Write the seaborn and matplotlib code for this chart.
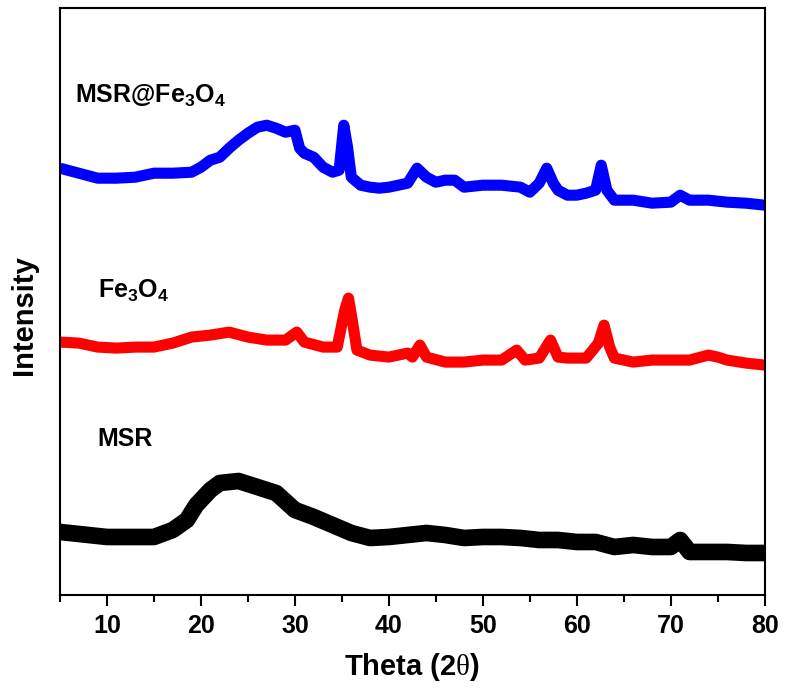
import pandas as pd
import matplotlib
matplotlib.use('Agg')
import matplotlib.pyplot as plt
from matplotlib.ticker import MultipleLocator
import seaborn as sns

sns.set_theme(style='ticks')
plt.rcParams['font.family'] = ['Liberation Sans', 'DejaVu Sans']
plt.rcParams['text.color'] = 'black'
plt.rcParams['axes.labelcolor'] = 'black'
plt.rcParams['xtick.color'] = 'black'
plt.rcParams['mathtext.fontset'] = 'custom'
plt.rcParams['mathtext.rm'] = 'Liberation Sans:bold'
plt.rcParams['mathtext.bf'] = 'Liberation Sans:bold'
plt.rcParams['mathtext.sf'] = 'Liberation Serif'
plt.rcParams['mathtext.default'] = 'bf'

# XRD traces (arbitrary intensity units, curves offset)
msr_theta = [5, 10, 15, 17, 18.5, 19.5, 21, 22, 24, 26, 28, 30, 32, 34, 36, 38, 40,
             42, 44, 46, 48, 50, 52, 54, 56, 58, 60, 62, 64, 66, 68, 70, 71, 72, 74, 76, 78, 80]
msr_int = [63, 58, 58, 65, 75, 90, 105, 112, 114, 108, 102, 85, 78, 70, 62, 57, 58,
           60, 62, 60, 57, 58, 58, 57, 55, 55, 53, 53, 48, 50, 48, 48, 55, 43, 43, 43, 42, 42]

fe3o4_theta = [5, 7, 9, 11, 13, 15, 17, 19, 21, 23, 25, 27, 29, 30.2, 31, 33, 34.5, 35.3, 35.7,
               36.1, 36.6, 38, 40, 42, 42.5, 43.3, 44, 46, 48, 50, 52, 53.6, 54.5, 56, 57.2, 58,
               59, 61, 62.3, 62.9, 63.5, 64, 66, 68, 70, 72, 74, 75, 76, 78, 80]
fe3o4_int = [253, 252, 248, 247, 248, 248, 252, 258, 260, 263, 258, 255, 255, 263, 253, 248, 248, 285, 297,
             275, 245, 240, 238, 242, 238, 250, 238, 233, 233, 235, 235, 245, 235, 237, 255, 238,
             237, 237, 252, 270, 248, 237, 233, 235, 235, 235, 240, 238, 235, 232, 230]

msr_fe3o4_theta = [5, 7, 9, 11, 13, 15, 17, 19, 20, 21, 22, 23, 24, 25, 26, 27, 28, 29, 30, 30.5,
                   31, 32, 33, 34, 34.7, 35.2, 35.6, 36, 37, 38, 39, 40, 41, 42, 43, 44, 45, 46, 47,
                   48, 50, 52, 54, 55, 56, 56.8, 57.5, 58, 59, 60, 61, 62, 62.6, 63.2, 64, 66, 68,
                   70, 71, 72, 74, 76, 78, 80]
msr_fe3o4_int = [427, 422, 417, 417, 418, 422, 422, 423, 428, 435, 438, 447, 455, 462, 468, 470, 467, 463, 465, 447,
                 442, 438, 428, 423, 425, 470, 448, 418, 410, 408, 407, 408, 410, 412, 427, 418, 413, 415, 415,
                 408, 410, 410, 408, 403, 412, 427, 412, 405, 400, 400, 402, 405, 430, 405, 395, 395, 392,
                 393, 400, 395, 395, 393, 392, 390]

samples = ['MSR', 'Fe3O4', 'MSR@Fe3O4']
colors = {'MSR': 'black', 'Fe3O4': '#ff0000', 'MSR@Fe3O4': '#0000ff'}
labels = ['MSR', 'Fe$_3$O$_4$', 'MSR@Fe$_3$O$_4$']

df = pd.concat([
    pd.DataFrame({'theta': msr_theta, 'intensity': msr_int, 'sample': 'MSR'}),
    pd.DataFrame({'theta': fe3o4_theta, 'intensity': fe3o4_int, 'sample': 'Fe3O4'}),
    pd.DataFrame({'theta': msr_fe3o4_theta, 'intensity': msr_fe3o4_int, 'sample': 'MSR@Fe3O4'}),
])

fig = plt.figure(figsize=(7.9, 6.91), dpi=100)
ax = fig.add_axes([0.076, 0.139, 0.892, 0.849])
for s, lw in zip(samples, [12, 8, 8]):
    sns.lineplot(data=df[df['sample'] == s], x='theta', y='intensity', color=colors[s],
                 linewidth=lw, ax=ax, legend=False, estimator=None, sort=False,
                 solid_joinstyle='round', solid_capstyle='butt')

# curve labels
ax.text(9.0, 149, labels[0], fontsize=18, fontweight='bold')
ax.text(9.0, 297, labels[1], fontsize=18, fontweight='bold')
ax.text(6.6, 492, labels[2], fontsize=18, fontweight='bold')

ax.set_xlim(5, 80)
ax.set_ylim(0, 587)
ax.xaxis.set_major_locator(MultipleLocator(10))
ax.xaxis.set_minor_locator(MultipleLocator(5))
ax.tick_params(axis='x', which='major', direction='out', length=8, width=1.5, labelsize=18, pad=6)
ax.tick_params(axis='x', which='minor', direction='out', length=5, width=1.5)
for lab in ax.get_xticklabels():
    lab.set_fontweight('bold')
ax.set_yticks([])
for sp in ax.spines.values():
    sp.set_visible(True)
    sp.set_linewidth(1.5)
    sp.set_color('black')
ax.set_xlabel('Theta (2$\\mathsf{\\theta}$)', fontsize=21, fontweight='bold', labelpad=9)
ax.set_ylabel('Intensity', fontsize=21, fontweight='bold')
ax.yaxis.set_label_coords(-0.031, 0.477)

fig.savefig('out.png', dpi=100)
